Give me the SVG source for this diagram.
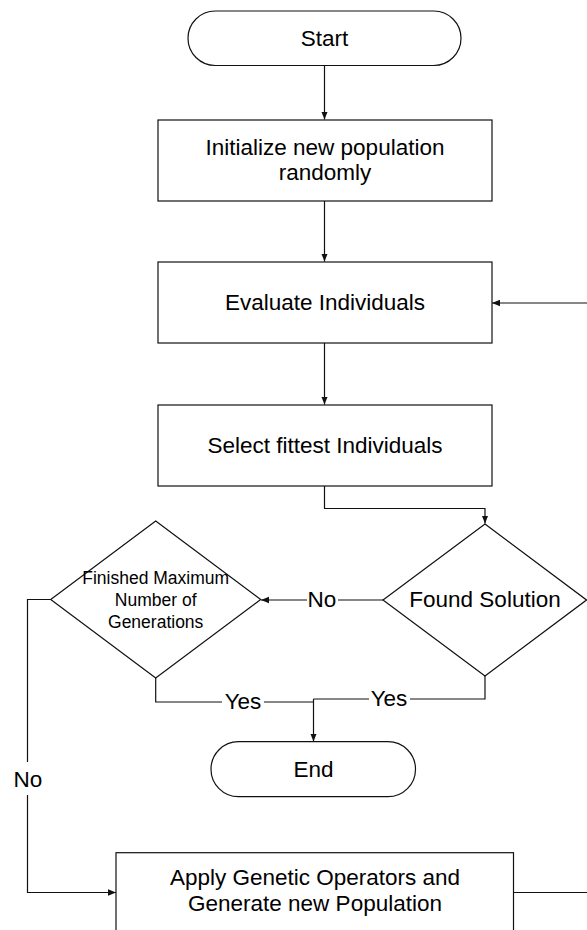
<svg xmlns="http://www.w3.org/2000/svg" width="587" height="930" viewBox="0 0 587 930">
  <style>
    .shape { fill: #ffffff; stroke: #111111; stroke-width: 1.2; }
    .wire { fill: none; stroke: #111111; stroke-width: 1.2; }
    .lbl { font-family: "Liberation Sans", Arial, sans-serif; font-size: 22.5px; fill: #000000; text-anchor: middle; }
    .small { font-size: 17.5px; }
  </style>
  <defs>
    <marker id="arrow" markerWidth="9" markerHeight="8" refX="8" refY="4" orient="auto" markerUnits="userSpaceOnUse">
      <path d="M0,0.8 L8,4 L0,7.2 Z" fill="#111111"/>
    </marker>
  </defs>
  <rect width="587" height="930" fill="#ffffff"/>

  <!-- connectors -->
  <g id="connectors">
    <line class="wire" x1="324.5" y1="65" x2="324.5" y2="119.5" marker-end="url(#arrow)"/>
    <line class="wire" x1="324.5" y1="201" x2="324.5" y2="261.5" marker-end="url(#arrow)"/>
    <line class="wire" x1="324.5" y1="343" x2="324.5" y2="404.5" marker-end="url(#arrow)"/>
    <polyline class="wire" points="324.5,486 324.5,508.5 485,508.5 485,523.5" marker-end="url(#arrow)"/>
    <!-- No: found solution to max generations -->
    <line class="wire" x1="383" y1="600" x2="338" y2="600"/>
    <line class="wire" x1="307" y1="600" x2="261" y2="600" marker-end="url(#arrow)"/>
    <text class="lbl" x="322" y="607">No</text>
    <!-- Yes branches to End -->
    <polyline class="wire" points="485,676 485,699 410,699"/>
    <line class="wire" x1="369" y1="699" x2="313.5" y2="699"/>
    <text class="lbl" x="389" y="706">Yes</text>
    <polyline class="wire" points="155.7,678 155.7,702 222,702"/>
    <line class="wire" x1="264" y1="702" x2="313.5" y2="702"/>
    <text class="lbl" x="243" y="708.5">Yes</text>
    <line class="wire" x1="313.5" y1="699" x2="313.5" y2="741.5" marker-end="url(#arrow)"/>
    <!-- No: max generations not reached, loop to operators -->
    <polyline class="wire" points="50.7,599.5 27.5,599.5 27.5,762"/>
    <text class="lbl" x="28" y="787">No</text>
    <polyline class="wire" points="27.5,795 27.5,892.5 116,892.5" marker-end="url(#arrow)"/>
    <!-- back edge from operators to evaluation -->
    <line class="wire" x1="513.5" y1="892.5" x2="587" y2="892.5"/>
    <line class="wire" x1="587" y1="303" x2="492" y2="303" marker-end="url(#arrow)"/>
  </g>

  <g id="start">
    <rect class="shape" x="188" y="11" width="273" height="54.5" rx="27.25" ry="27.25"/>
    <text class="lbl" x="324.5" y="46">Start</text>
  </g>

  <g id="init">
    <rect class="shape" x="158" y="120" width="334" height="81"/>
    <text class="lbl" x="325" y="154.5">Initialize new population</text>
    <text class="lbl" x="325" y="179.5">randomly</text>
  </g>

  <g id="evaluate">
    <rect class="shape" x="158" y="262" width="334" height="81"/>
    <text class="lbl" x="325" y="310">Evaluate Individuals</text>
  </g>

  <g id="select">
    <rect class="shape" x="158" y="405" width="334" height="81"/>
    <text class="lbl" x="325" y="453">Select fittest Individuals</text>
  </g>

  <g id="found">
    <polygon class="shape" points="485,524 586.5,600 485,676 383,600"/>
    <text class="lbl" x="485" y="607">Found Solution</text>
  </g>

  <g id="maxgen">
    <polygon class="shape" points="155.7,521 260.7,599.5 155.7,678 50.7,599.5"/>
    <text class="lbl small" x="155.7" y="583.5">Finished Maximum</text>
    <text class="lbl small" x="155.7" y="605.5">Number of</text>
    <text class="lbl small" x="155.7" y="627.5">Generations</text>
  </g>

  <g id="end">
    <rect class="shape" x="211" y="741.7" width="204.5" height="55" rx="27.5" ry="27.5"/>
    <text class="lbl" x="313.5" y="777">End</text>
  </g>

  <g id="operators">
    <rect class="shape" x="116" y="852.7" width="397.5" height="100"/>
    <text class="lbl" x="315" y="884.5">Apply Genetic Operators and</text>
    <text class="lbl" x="315" y="911">Generate new Population</text>
  </g>
</svg>
